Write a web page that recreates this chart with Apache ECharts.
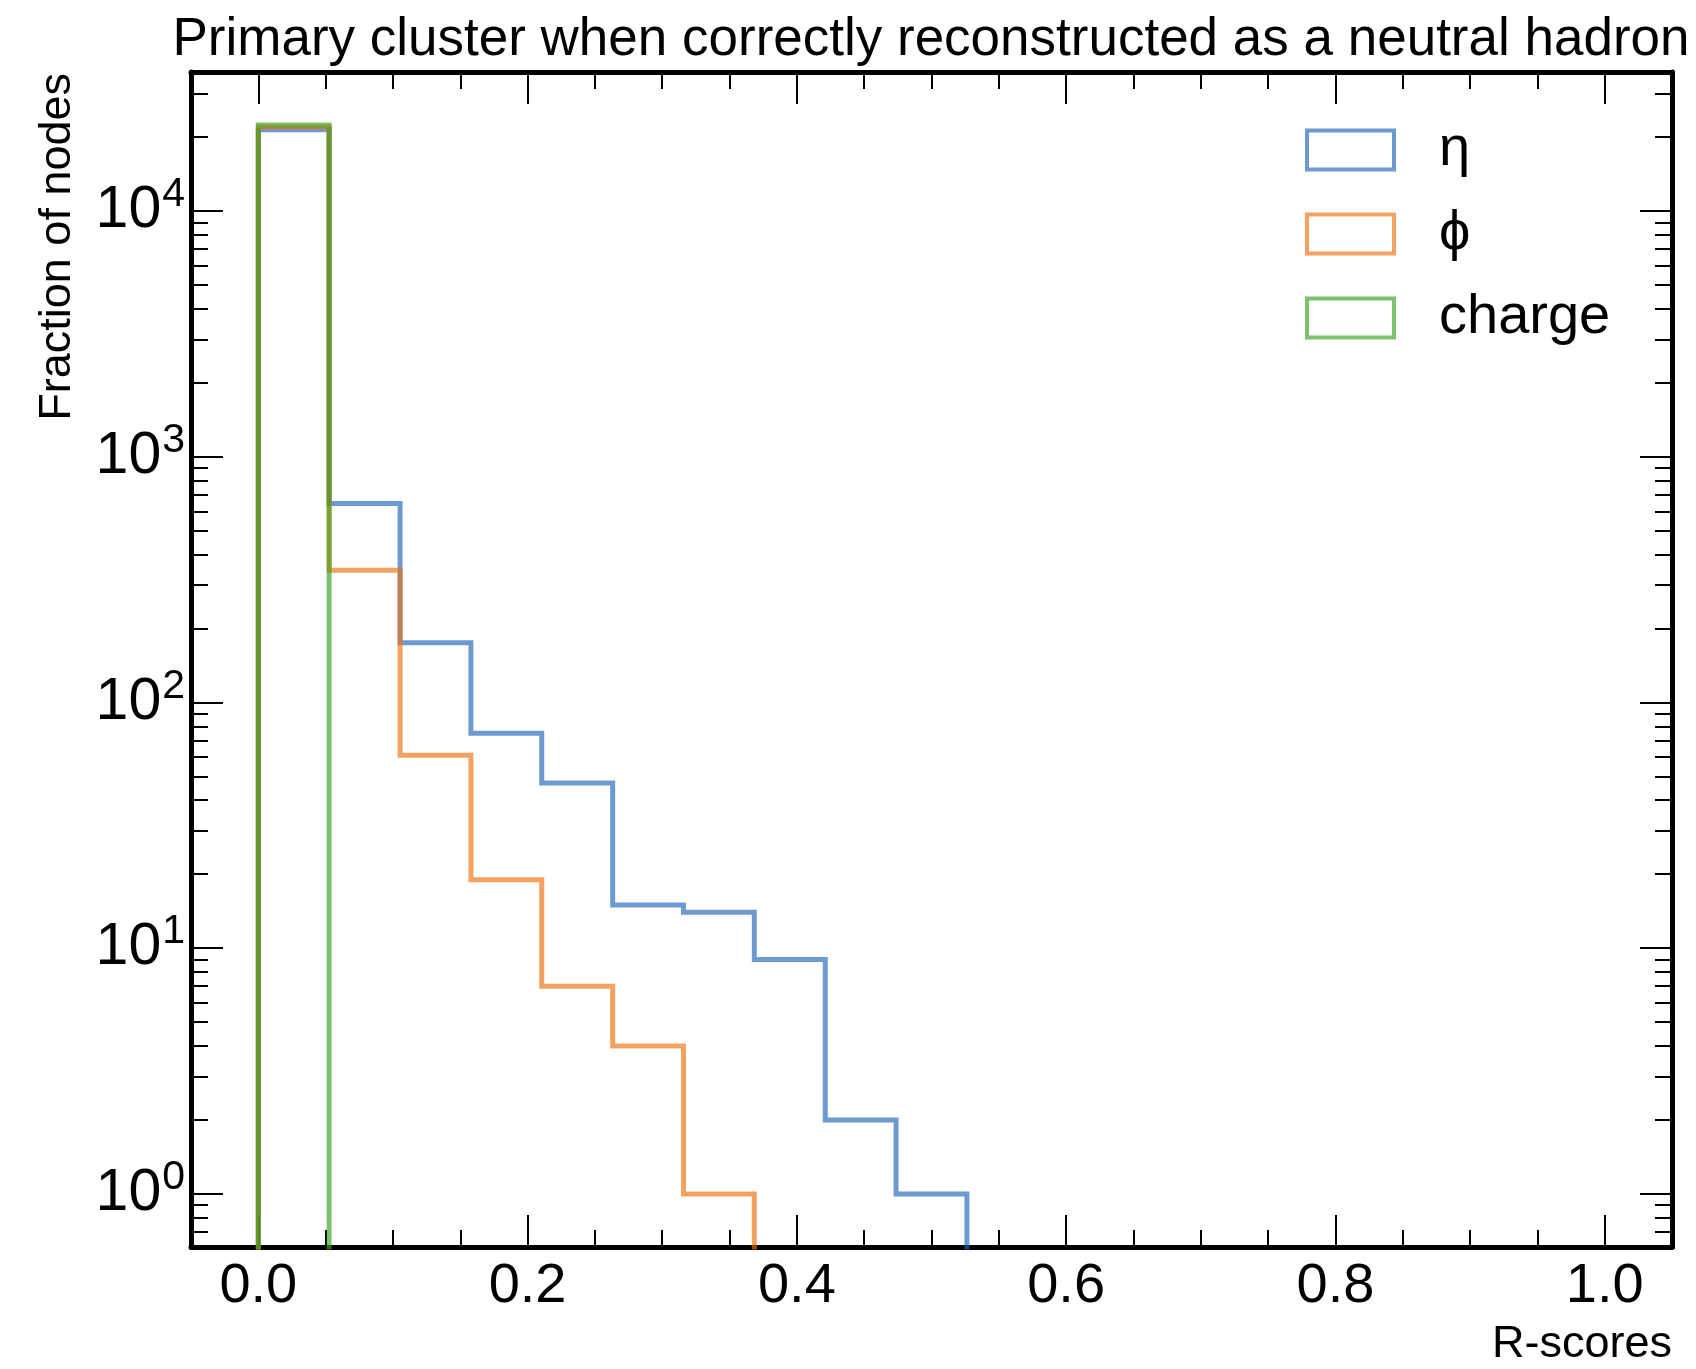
<!DOCTYPE html>
<html>
<head>
<meta charset="utf-8">
<title>Primary cluster R-scores</title>
<script src="https://cdn.jsdelivr.net/npm/echarts@6/dist/echarts.min.js"></script>
<style>
  html, body { margin: 0; padding: 0; background: #fff; }
  #chart { width: 1696px; height: 1369px; }
</style>
</head>
<body>
<div id="chart"></div>
<script>
// bin edges of the histogram (19 bins between 0 and 1)
const binEdges = [0, 0.0526, 0.1053, 0.1579, 0.2105, 0.2632, 0.3158, 0.3684, 0.4211, 0.4737,
  0.5263, 0.5789, 0.6316, 0.6842, 0.7368, 0.7895, 0.8421, 0.8947, 0.9474, 1.0]

// counts per bin
const etaCounts = [21420, 645, 175, 75, 47, 15, 14, 9, 2, 1, 0, 0, 0, 0, 0, 0, 0, 0, 0]
const phiCounts = [21960, 345, 61, 19, 7, 4, 1, 0, 0, 0, 0, 0, 0, 0, 0, 0, 0, 0, 0]
const chargeCounts = [22400, 0, 0, 0, 0, 0, 0, 0, 0, 0, 0, 0, 0, 0, 0, 0, 0, 0, 0]

const seriesNames = ['η', 'ϕ', 'charge']
const seriesColors = ['rgba(30,100,185,0.65)', 'rgba(238,112,14,0.65)', 'rgba(57,161,31,0.65)']

// ticks
const xMajorTicks = [0, 0.2, 0.4, 0.6, 0.8, 1.0]
const xMinorTicks = [0.05, 0.1, 0.15, 0.25, 0.3, 0.35, 0.45, 0.5, 0.55, 0.65, 0.7, 0.75, 0.85, 0.9, 0.95]
const yMajorTicks = [1, 10, 100, 1000, 10000]
const yMinorTicks = [0.7, 0.8, 0.9, 2, 3, 4, 5, 6, 7, 8, 9, 20, 30, 40, 50, 60, 70, 80, 90,
  200, 300, 400, 500, 600, 700, 800, 900, 2000, 3000, 4000, 5000, 6000, 7000, 8000, 9000, 20000, 30000]

const X_MIN = -0.05
const X_MAX = 1.05
const Y_MIN = 0.608
const Y_MAX = 36800
const FLOOR = 0.1 // below the visible range, empty bins get clipped away

const FONT = "'Liberation Sans', Arial, Helvetica, sans-serif"

// step outline like histtype='step'
function stepOutline(counts) {
  const pts = [[binEdges[0], FLOOR]]
  counts.forEach((c, i) => {
    const v = c > 0 ? c : FLOOR
    pts.push([binEdges[i], v], [binEdges[i + 1], v])
  })
  pts.push([binEdges[binEdges.length - 1], FLOOR])
  return pts
}

function xAxisDef(position, ticks, len, main, labels) {
  return {
    type: 'value', position, min: X_MIN, max: X_MAX,
    axisLine: { show: main, onZero: false, lineStyle: { color: '#000', width: 5 } },
    axisTick: { show: true, inside: true, length: len, customValues: ticks, lineStyle: { color: '#000', width: 2 } },
    axisLabel: {
      show: labels, customValues: xMajorTicks, margin: 12,
      fontSize: 56, fontFamily: FONT, color: '#000',
      formatter: v => v.toFixed(1)
    },
    splitLine: { show: false }
  }
}

function yAxisDef(position, ticks, len, main, labels) {
  return {
    type: 'log', logBase: 10, position, min: Y_MIN, max: Y_MAX,
    axisLine: { show: main, onZero: false, lineStyle: { color: '#000', width: 5 } },
    axisTick: { show: true, inside: true, length: len, customValues: ticks, lineStyle: { color: '#000', width: 2 } },
    axisLabel: {
      show: labels, customValues: yMajorTicks, margin: 6,
      formatter: v => '{b|10}{s|' + Math.round(Math.log10(v)) + '}',
      rich: {
        b: { fontSize: 59, fontFamily: FONT, color: '#000', padding: [7, 1, 7, 0] },
        s: { fontSize: 41, fontFamily: FONT, color: '#000', verticalAlign: 'top' }
      }
    },
    splitLine: { show: false }
  }
}

const chart = echarts.init(document.getElementById('chart'))
chart.setOption({
  animation: false,
  backgroundColor: '#fff',
  grid: { left: 191, right: 24, top: 72, bottom: 122 },
  xAxis: [
    xAxisDef('bottom', xMajorTicks, 32, true, true),
    xAxisDef('bottom', xMinorTicks, 17, false, false),
    xAxisDef('top', xMajorTicks, 32, true, false),
    xAxisDef('top', xMinorTicks, 17, false, false)
  ],
  yAxis: [
    yAxisDef('left', yMajorTicks, 32, true, true),
    yAxisDef('left', yMinorTicks, 17, false, false),
    yAxisDef('right', yMajorTicks, 32, true, false),
    yAxisDef('right', yMinorTicks, 17, false, false)
  ],
  legend: {
    orient: 'vertical', left: 1305, top: 122, padding: 0,
    itemWidth: 87, itemHeight: 39, itemGap: 28,
    textStyle: { fontSize: 56, lineHeight: 56, fontFamily: FONT, color: '#000', padding: [0, 0, 0, 40] },
    data: seriesNames.map((name, i) => ({
      name,
      icon: 'rect',
      itemStyle: { color: 'rgba(0,0,0,0)', borderColor: seriesColors[i], borderWidth: 4 }
    }))
  },
  graphic: [
    {
      type: 'text', x: 931, y: 40,
      style: { text: 'Primary cluster when correctly reconstructed as a neutral hadron', fontSize: 53, fontFamily: FONT, fill: '#000', align: 'center', verticalAlign: 'middle' }
    },
    {
      type: 'text', x: 58, y: 73, rotation: Math.PI / 2,
      style: { text: 'Fraction of nodes', fontSize: 45, fontFamily: FONT, fill: '#000', align: 'right', verticalAlign: 'middle' }
    },
    {
      type: 'text', x: 1672, y: 1345,
      style: { text: 'R-scores', fontSize: 45, fontFamily: FONT, fill: '#000', align: 'right', verticalAlign: 'middle' }
    }
  ],
  series: [etaCounts, phiCounts, chargeCounts].map((counts, i) => ({
    name: seriesNames[i],
    type: 'line',
    xAxisIndex: 0,
    yAxisIndex: 0,
    data: stepOutline(counts),
    symbol: 'none',
    clip: true,
    lineStyle: { color: seriesColors[i], width: 5, join: 'miter' },
    itemStyle: { color: seriesColors[i] }
  }))
})
</script>
</body>
</html>
